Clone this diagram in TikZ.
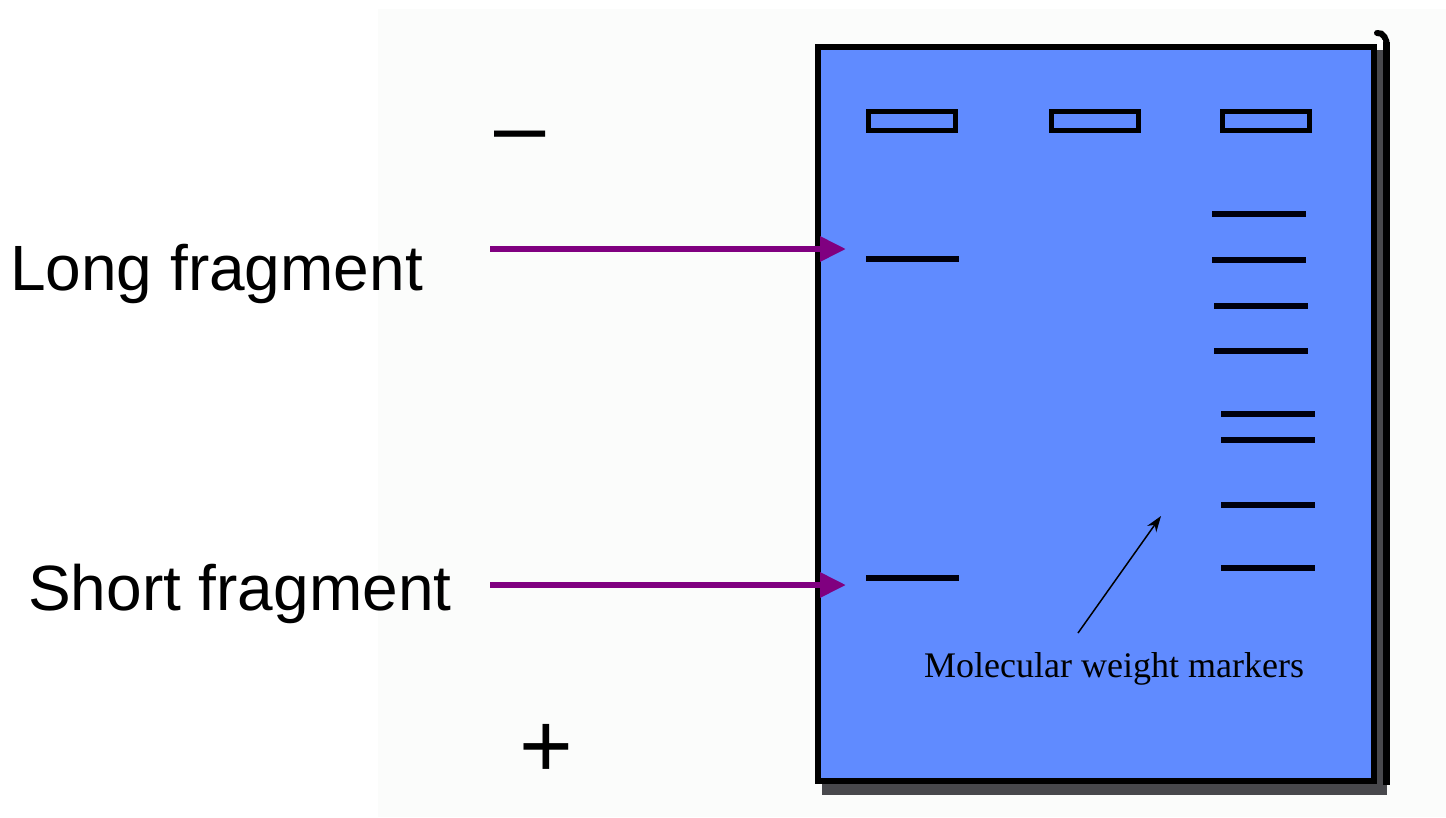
\documentclass[tikz,border=0pt]{standalone}
\usepackage{fontspec}
\setmainfont{Liberation Sans}
\newfontfamily\serifmark{Liberation Serif}
\usetikzlibrary{arrows.meta}
\definecolor{gelblue}{RGB}{96,139,255}
\definecolor{pagebg}{RGB}{251,252,251}
\definecolor{shadowgray}{RGB}{72,72,76}
\definecolor{arrowpurple}{RGB}{128,0,128}
\tikzset{
  band/.style={line width=6.5pt, draw=black!95!blue},
  wellbox/.style={line width=5pt, draw=black, fill=gelblue},
  fragarrow/.style={line width=6pt, draw=arrowpurple, -{Triangle[length=26pt,width=24pt]}},
  biglabel/.style={anchor=base west, inner sep=0pt, font=\fontsize{64}{76}\selectfont},
  signlabel/.style={anchor=center, inner sep=0pt, font=\fontsize{92}{104}\selectfont},
}
\begin{document}
\begin{tikzpicture}[x=1pt,y=-1pt]
\useasboundingbox (0,0) rectangle (1446,817);
\fill[white] (0,0) rectangle (1446,817);
\fill[pagebg] (378,9) rectangle (1446,817);
% gel shadow
\fill[shadowgray] (822,50) rectangle (1387,795);
\fill[black] (1383,42) rectangle (1390,785);
\draw[line width=6pt, line cap=round] (1377,33) to[out=10,in=90] (1387,46);
\fill[white] (1377,40) rectangle (1383,48);
% gel
\draw[line width=6pt, fill=gelblue] (818,47) rectangle (1374,781);
% wells
\node[wellbox, minimum width=87pt, minimum height=19pt, inner sep=0pt] (w1) at (912,121) {};
\node[wellbox, minimum width=87pt, minimum height=19pt, inner sep=0pt] (w2) at (1095,121) {};
\node[wellbox, minimum width=87pt, minimum height=19pt, inner sep=0pt] (w3) at (1266,121) {};
% lane 1 bands
\draw[band] (866,259) -- (959,259);
\draw[band] (866,578) -- (959,578);
% marker bands
\draw[band] (1212,214) -- (1306,214);
\draw[band] (1212,260) -- (1306,260);
\draw[band] (1214,306) -- (1308,306);
\draw[band] (1214,351) -- (1308,351);
\draw[band] (1221,414) -- (1315,414);
\draw[band] (1221,440) -- (1315,440);
\draw[band] (1221,505) -- (1315,505);
\draw[band] (1221,568) -- (1315,568);
% labels
\node[biglabel] (long) at (10,290) {Long fragment};
\node[biglabel] (short) at (28,610) {Short fragment};
\node[signlabel] (minus) at (520,144) {–};
\node[signlabel] (plus) at (546,751) {+};
% purple arrows
\coordinate (la) at (490,249);
\coordinate (lb) at (846,249);
\coordinate (sa) at (490,585);
\coordinate (sb) at (846,585);
\draw[fragarrow] (la) -- (lb);
\draw[fragarrow] (sa) -- (sb);
% markers label and arrow
\node[anchor=base west, inner sep=0pt, font=\serifmark\fontsize{36}{42}\selectfont] (mw) at (924,677) {Molecular weight markers};
\coordinate (mwa) at (1078,633);
\coordinate (mwb) at (1161,516);
\draw[line width=1.5pt, -{Stealth[length=16pt,width=11pt]}] (mwa) -- (mwb);
\end{tikzpicture}
\end{document}
